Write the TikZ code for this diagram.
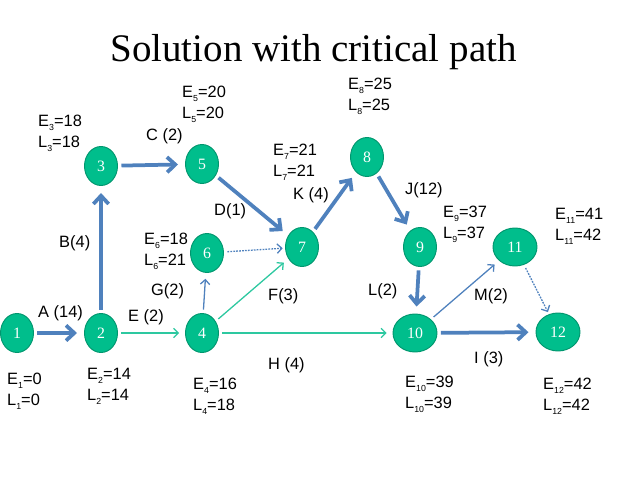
\documentclass[tikz,border=0pt]{standalone}
\usepackage{fontspec}
\setmainfont{Liberation Sans}
\newfontfamily\tnr{Liberation Serif}
\usetikzlibrary{shapes.geometric,arrows.meta}

\definecolor{evfill}{RGB}{0,190,140}
\definecolor{evline}{RGB}{0,150,110}
\definecolor{critblue}{RGB}{79,129,189}
\definecolor{tealline}{RGB}{45,200,160}

\newcommand{\tsub}[1]{\raisebox{-0.45ex}{\fontsize{7.5}{7.5}\selectfont #1}}
\newcommand{\evtimes}[3]{E\tsub{#1}=#2\\L\tsub{#1}=#3}

\tikzset{
  event/.style={ellipse,draw=evline,fill=evfill,thick,text=white,inner sep=0pt,
    minimum width=0.99cm,minimum height=1.17cm,font=\tnr\fontsize{13.5}{13.5}\selectfont},
  wide/.style={minimum width=1.32cm,minimum height=1.14cm},
  crit/.style={critblue,line width=3.2pt,-{Straight Barb[length=7pt,width=13pt]},
    shorten <=3pt,shorten >=6pt},
  thin/.style={line width=1.1pt,-{Straight Barb[length=4pt,width=8pt]},
    shorten <=3pt,shorten >=5pt},
  dum/.style={critblue,line width=1.1pt,dash pattern=on 1.5pt off 1pt,
    -{Straight Barb[length=4pt,width=8pt]},shorten <=3pt,shorten >=2pt},
  tms/.style={anchor=west,align=left,inner sep=0pt,font=\fontsize{14}{18}\selectfont},
  act/.style={anchor=west,inner sep=0pt,font=\fontsize{14}{16}\selectfont}
}

\begin{document}
\begin{tikzpicture}[x=0.03cm,y=-0.03cm]
\useasboundingbox (0,0) rectangle (638,479);

\node[anchor=base,font=\tnr\fontsize{33.3}{40}\selectfont] (title) at (313.5,62) {Solution with critical path};

% events
\foreach \n/\x/\y in {1/17/333,2/101/333,3/101/166,4/202/333,5/202/164,6/207/253,7/302/247,8/367/157,9/420/247}
  \node[event] (n\n) at (\x,\y) {\n};
\foreach \n/\x/\y in {10/415/333,11/515/247,12/558/332}
  \node[event,wide] (n\n) at (\x,\y) {\n};

% critical path
\foreach \a/\b in {1/2,2/3,3/5,5/7,7/8,8/9,9/10,10/12}
  \draw[crit] (n\a) -- (n\b);

% other activities
\draw[thin,tealline] (n2) -- (n4);
\draw[thin,tealline] (n4) -- (n7);
\draw[thin,tealline] (n4) -- (n10);
\draw[thin,critblue] (n4) -- (n6);
\draw[thin,critblue] (n10) -- (n11);
\draw[dum] (n6) -- (n7);
\draw[dum] (n11) -- (n12);

% activity labels
\node[act] (la) at (38,313) {A (14)};
\node[act] (lb) at (59,243) {B(4)};
\node[act] (lc) at (146,136) {C (2)};
\node[act] (ld) at (214,211) {D(1)};
\node[act] (le) at (128,317) {E (2)};
\node[act] (lf) at (268,296) {F(3)};
\node[act] (lg) at (151,291) {G(2)};
\node[act] (lh) at (268,365) {H (4)};
\node[act] (li) at (474,359) {I (3)};
\node[act] (lj) at (405,190) {J(12)};
\node[act] (lk) at (293,195) {K (4)};
\node[act] (ll) at (368,291) {L(2)};
\node[act] (lm) at (474,296) {M(2)};

% earliest / latest times
\node[tms] (t1) at (7,391.5) {\evtimes{1}{0}{0}};
\node[tms] (t2) at (87,386) {\evtimes{2}{14}{14}};
\node[tms] (t3) at (38,133.5) {\evtimes{3}{18}{18}};
\node[tms] (t4) at (193,396.5) {\evtimes{4}{16}{18}};
\node[tms] (t5) at (182,104) {\evtimes{5}{20}{20}};
\node[tms] (t6) at (144,251) {\evtimes{6}{18}{21}};
\node[tms] (t7) at (273,162.5) {\evtimes{7}{21}{21}};
\node[tms] (t8) at (348,96.5) {\evtimes{8}{25}{25}};
\node[tms] (t9) at (443,224) {\evtimes{9}{37}{37}};
\node[tms] (t10) at (405,394.5) {\evtimes{10}{39}{39}};
\node[tms] (t11) at (555,226) {\evtimes{11}{41}{42}};
\node[tms] (t12) at (543,396.5) {\evtimes{12}{42}{42}};

\end{tikzpicture}
\end{document}
